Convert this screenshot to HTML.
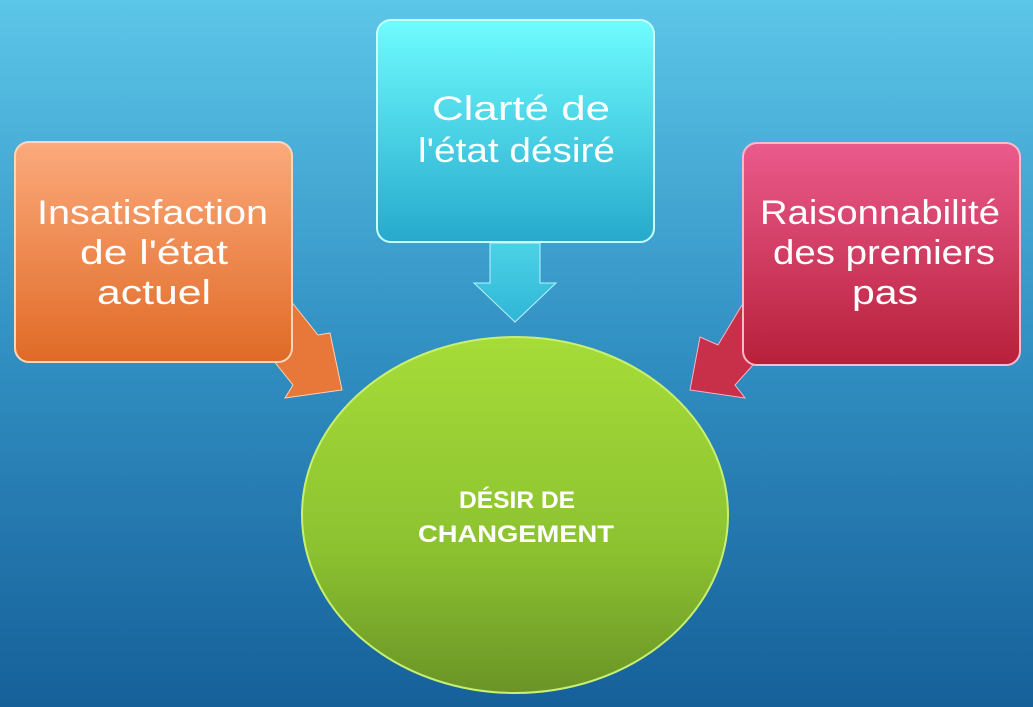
<!DOCTYPE html>
<html><head><meta charset="utf-8"><style>
html,body{margin:0;padding:0;width:1033px;height:707px;overflow:hidden}
svg{display:block}
text{font-family:"Liberation Sans",sans-serif;fill:#fff}
</style></head><body>
<svg width="1033" height="707" viewBox="0 0 1033 707" xmlns="http://www.w3.org/2000/svg">
<defs>
<linearGradient id="bg" x1="0" y1="0" x2="0" y2="1"><stop offset="0" stop-color="#5cc6e8"/><stop offset="0.5" stop-color="#318fc2"/><stop offset="1" stop-color="#16609a"/></linearGradient>
<linearGradient id="or" x1="0" y1="0" x2="0" y2="1"><stop offset="0" stop-color="#fbaa7c"/><stop offset="1" stop-color="#e06a26"/></linearGradient>
<linearGradient id="cy" x1="0" y1="0" x2="0" y2="1"><stop offset="0" stop-color="#6ffcff"/><stop offset="1" stop-color="#26a9cc"/></linearGradient>
<linearGradient id="rd" x1="0" y1="0" x2="0" y2="1"><stop offset="0" stop-color="#ea5a8c"/><stop offset="1" stop-color="#b8203a"/></linearGradient>
<linearGradient id="gr" x1="0" y1="0" x2="0" y2="1"><stop offset="0" stop-color="#a6dc38"/><stop offset="0.6" stop-color="#8cc230"/><stop offset="1" stop-color="#6a9426"/></linearGradient>
<linearGradient id="ca" x1="0" y1="0" x2="0" y2="1"><stop offset="0" stop-color="#4cd2e6"/><stop offset="1" stop-color="#2fb6d6"/></linearGradient>
</defs>
<rect width="1033" height="707" fill="url(#bg)"/>
<polygon points="490,243 540,243 540,283 556,283 515,322 474,283 490,283" fill="url(#ca)" stroke="#b6f4ff" stroke-width="1"/>
<polygon points="250,320 290,300 318,335 330,333 342,390 285,398 293,385 265,350" fill="#e8773a" stroke="#ffd0b0" stroke-width="1"/>
<polygon points="780,320 745,300 718,345 700,337 690,390 745,398 735,385 762,355" fill="#c8304a" stroke="#ffb0c0" stroke-width="1"/>
<rect x="15" y="142" width="277" height="220" rx="14" fill="url(#or)" stroke="#ffd6bb" stroke-width="2"/>
<rect x="377" y="20" width="277" height="222" rx="14" fill="url(#cy)" stroke="#c8ffff" stroke-width="2"/>
<rect x="743" y="143" width="277" height="222" rx="14" fill="url(#rd)" stroke="#ffb8cc" stroke-width="2"/>
<ellipse cx="515" cy="515" rx="213" ry="178" fill="url(#gr)" stroke="#c8f070" stroke-width="2"/>
<g font-size="34" lengthAdjust="spacingAndGlyphs">
<text x="37" y="224" textLength="231" lengthAdjust="spacingAndGlyphs">Insatisfaction</text>
<text x="80" y="264" textLength="148" lengthAdjust="spacingAndGlyphs">de l'état</text>
<text x="97" y="304" textLength="114" lengthAdjust="spacingAndGlyphs">actuel</text>
<text x="432" y="120" textLength="178" lengthAdjust="spacingAndGlyphs">Clarté de</text>
<text x="418" y="162" textLength="197" lengthAdjust="spacingAndGlyphs">l'état désiré</text>
<text x="760" y="224" textLength="240" lengthAdjust="spacingAndGlyphs">Raisonnabilité</text>
<text x="773" y="264" textLength="222" lengthAdjust="spacingAndGlyphs">des premiers</text>
<text x="852" y="304" textLength="66" lengthAdjust="spacingAndGlyphs">pas</text>
</g>
<g font-size="24" font-weight="bold">
<text x="459" y="508" textLength="116" lengthAdjust="spacingAndGlyphs">DÉSIR DE</text>
<text x="418" y="542" textLength="196" lengthAdjust="spacingAndGlyphs">CHANGEMENT</text>
</g>
</svg>
</body></html>
